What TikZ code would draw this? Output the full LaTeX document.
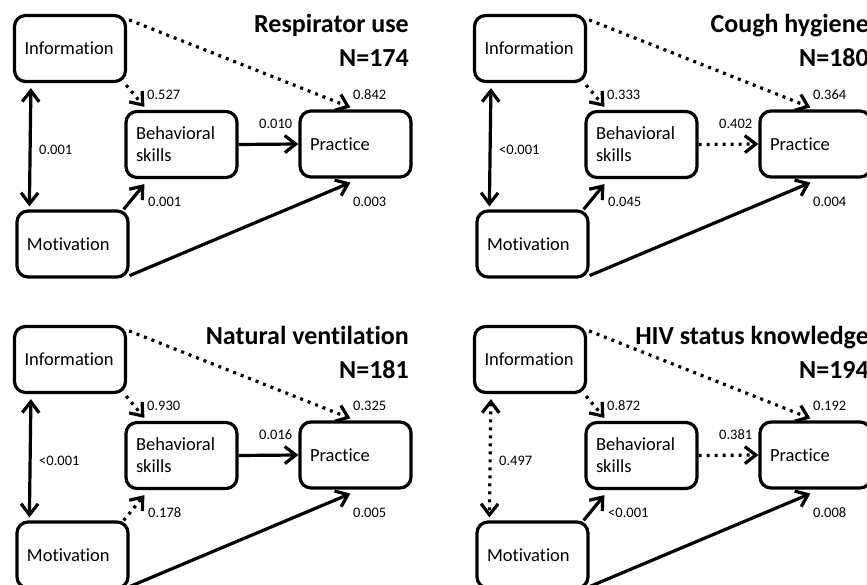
\documentclass[tikz,border=0pt]{standalone}
\usepackage{fontspec}
\setmainfont{Carlito}[Ligatures={TeX,NoCommon}]
\usetikzlibrary{arrows.meta,calc}
\tikzset{
  pbox/.style={draw, line width=3.2pt, rounded corners=11pt, minimum width=111pt,
    minimum height=66pt, inner xsep=10pt, inner ysep=2pt, text width=91pt, align=left,
    font=\fontsize{18.5}{22}\selectfont},
  lbl/.style={anchor=west, inner sep=0pt, font=\fontsize{14.5}{16}\selectfont},
  ttl/.style={anchor=base east, inner sep=0pt, font=\bfseries\fontsize{26}{30}\selectfont},
  barb/.tip={Straight Barb[length=11pt,width=17pt]},
  solidarrow/.style={line width=3.2pt, -barb},
  dottedarrow/.style={solidarrow, dash pattern=on 3pt off 5pt},
  soliddouble/.style={line width=3.2pt, barb-barb},
  dotteddouble/.style={soliddouble, dash pattern=on 3pt off 5pt},
}
\newcommand\panelbase[5]{%
  \begin{scope}[shift={(#2,#3)}]
    \node[pbox] (#1I) at (70,48.5) {Information};
    \node[pbox] (#1B) at (181.5,144.5) {Behavioral\\skills};
    \node[pbox] (#1P) at (355.5,144) {Practice};
    \node[pbox] (#1M) at (72.5,244) {Motivation};
    \node[ttl] (#1T) at (409,33) {#4};
    \node[ttl] (#1N) at (409,67) {#5};
  \end{scope}}
\newcommand\panellabels[9]{%
  \begin{scope}[shift={(#2,#3)}]
    \node[lbl] (#1L1) at (39,150) {#4};
    \node[lbl] (#1L2) at (147,95) {#5};
    \node[lbl] (#1L3) at (353,95) {#6};
    \node[lbl] (#1L4) at (259,124) {#7};
    \node[lbl] (#1L5) at (148,202) {#8};
    \node[lbl] (#1L6) at (353,202) {#9};
  \end{scope}}
\begin{document}
\begin{tikzpicture}[x=1pt,y=-1pt]
\useasboundingbox (0,0) rectangle (867,585);
\clip (0,0) rectangle (867,585);

% Panel a: Respirator use
\panelbase{a}{0}{0}{Respirator use}{N=174}
\draw[soliddouble] ($(aI.south west)+(18,5)$) -- ($(aM.north west)+(14,-3)$);
\draw[dottedarrow] ($(aI.south east)+(-1,2)$) -- ($(aB.north west)+(20,-3)$);
\draw[dottedarrow] ($(aI.north east)+(2,6)$) -- ($(aP.north west)+(52,-2)$);
\draw[solidarrow] (aB.east) -- (aP.west);
\draw[solidarrow] ($(aM.north east)+(-6,0)$) -- ($(aB.south west)+(20,5)$);
\draw[solidarrow] ($(aM.south east)+(0,-3)$) -- ($(aP.south west)+(52,4)$);
\panellabels{a}{0}{0}{0.001}{0.527}{0.842}{0.010}{0.001}{0.003}

% Panel b: Cough hygiene
\panelbase{b}{460}{0}{Cough hygiene}{N=180}
\draw[soliddouble] ($(bI.south west)+(18,5)$) -- ($(bM.north west)+(14,-3)$);
\draw[dottedarrow] ($(bI.south east)+(-1,2)$) -- ($(bB.north west)+(20,-3)$);
\draw[dottedarrow] ($(bI.north east)+(2,6)$) -- ($(bP.north west)+(52,-2)$);
\draw[dottedarrow] (bB.east) -- (bP.west);
\draw[solidarrow] ($(bM.north east)+(-6,0)$) -- ($(bB.south west)+(20,5)$);
\draw[solidarrow] ($(bM.south east)+(0,-3)$) -- ($(bP.south west)+(52,4)$);
\panellabels{b}{460}{0}{<0.001}{0.333}{0.364}{0.402}{0.045}{0.004}

% Panel c: Natural ventilation
\panelbase{c}{0}{311}{Natural ventilation}{N=181}
\draw[soliddouble] ($(cI.south west)+(18,5)$) -- ($(cM.north west)+(14,-3)$);
\draw[dottedarrow] ($(cI.south east)+(-1,2)$) -- ($(cB.north west)+(20,-3)$);
\draw[dottedarrow] ($(cI.north east)+(2,6)$) -- ($(cP.north west)+(52,-2)$);
\draw[solidarrow] (cB.east) -- (cP.west);
\draw[dottedarrow] ($(cM.north east)+(-6,0)$) -- ($(cB.south west)+(20,5)$);
\draw[solidarrow] ($(cM.south east)+(0,-3)$) -- ($(cP.south west)+(52,4)$);
\panellabels{c}{0}{311}{<0.001}{0.930}{0.325}{0.016}{0.178}{0.005}

% Panel d: HIV status knowledge
\panelbase{d}{460}{311}{HIV status knowledge}{N=194}
\draw[dotteddouble] ($(dI.south west)+(18,5)$) -- ($(dM.north west)+(14,-3)$);
\draw[dottedarrow] ($(dI.south east)+(-1,2)$) -- ($(dB.north west)+(20,-3)$);
\draw[dottedarrow] ($(dI.north east)+(2,6)$) -- ($(dP.north west)+(52,-2)$);
\draw[dottedarrow] (dB.east) -- (dP.west);
\draw[solidarrow] ($(dM.north east)+(-6,0)$) -- ($(dB.south west)+(20,5)$);
\draw[solidarrow] ($(dM.south east)+(0,-3)$) -- ($(dP.south west)+(52,4)$);
\panellabels{d}{460}{311}{0.497}{0.872}{0.192}{0.381}{<0.001}{0.008}
\end{tikzpicture}
\end{document}
